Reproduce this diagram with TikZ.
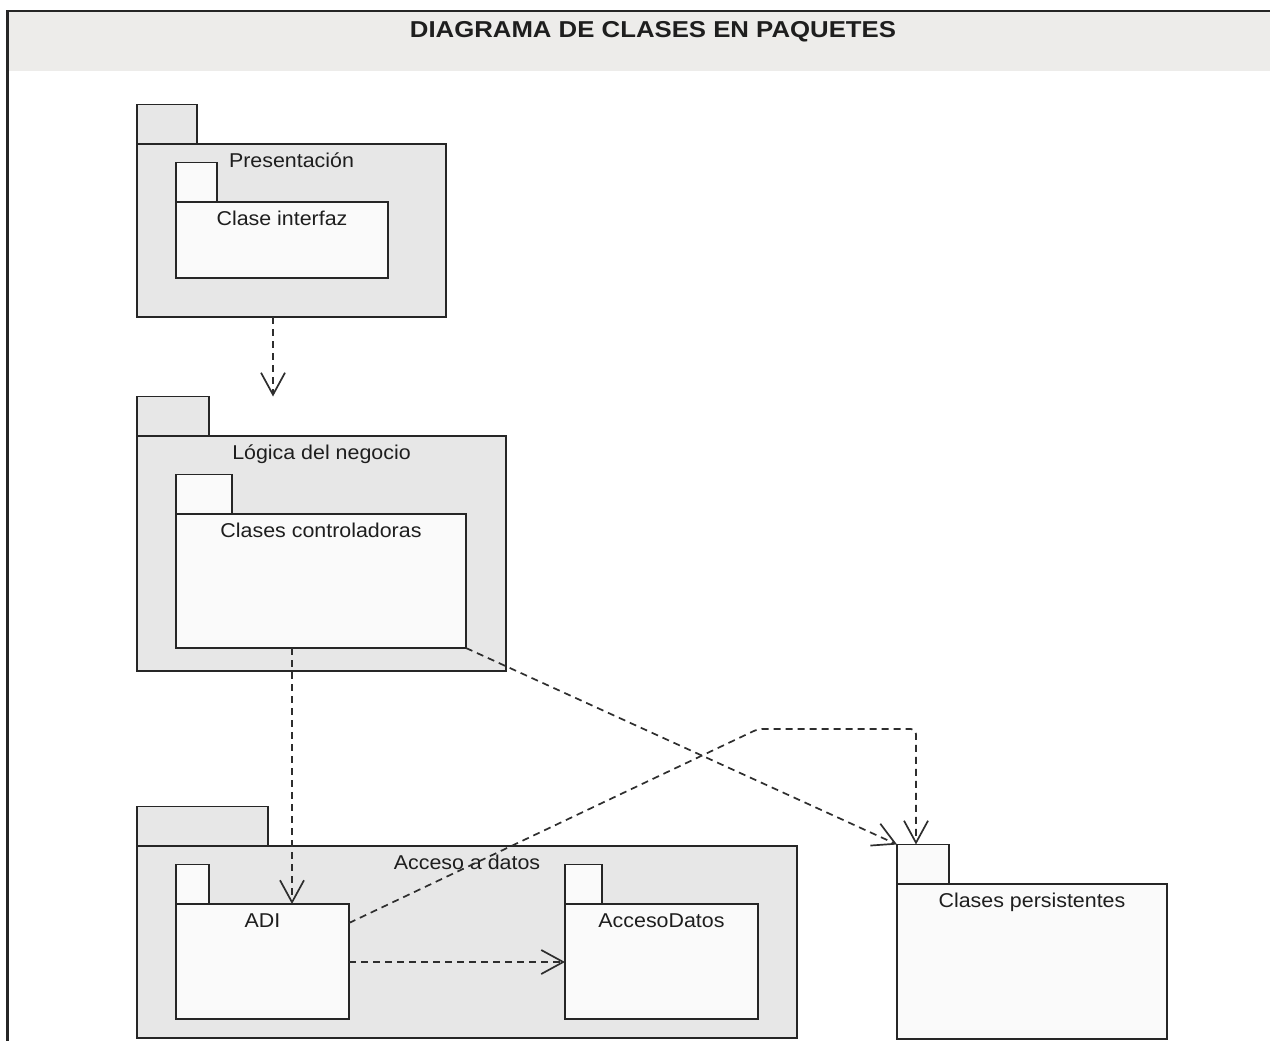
\documentclass[tikz,border=0pt]{standalone}
\usepackage{fontspec}
\setmainfont{Liberation Sans}
\newfontfamily\titlefamily[FakeStretch=1.12]{Liberation Sans}
\newfontfamily\lblfamily[FakeStretch=1.07]{Liberation Sans}
\usetikzlibrary{arrows.meta}

\definecolor{linec}{HTML}{262626}
\definecolor{depc}{HTML}{2E2E2E}
\definecolor{headfill}{HTML}{EDECEA}
\definecolor{pkgfill}{HTML}{E7E7E7}
\definecolor{innerfill}{HTML}{FAFAFA}
\definecolor{txt}{HTML}{1E1E1E}

\tikzset{
  pkg/.style={draw=linec, line width=1.8pt, fill=pkgfill, inner sep=0pt, outer sep=0pt, anchor=north west},
  inpkg/.style={pkg, fill=innerfill},
  lbl/.style={font=\lblfamily\fontsize{20}{24}\selectfont, anchor=base, inner sep=0pt, text=txt},
  dep/.style={draw=depc, line width=1.7pt, dash pattern=on 7pt off 5pt,
    -{Straight Barb[length=22pt,width=24pt,line width=1.7pt]}},
}

% UML package: style, name, x, y (top of body), width, height, tab width, label
\newcommand\umlpkg[8]{%
  \node[#1, minimum width=#5pt, minimum height=#6pt] (#2) at (#3,#4) {};
  \node[#1, minimum width=#7pt, minimum height=39.5pt, anchor=south west] (#2tab) at (#2.north west) {};
  \node[lbl] (#2lbl) at ([yshift=-23pt]#2.north) {#8};
}

\begin{document}
\begin{tikzpicture}[x=1pt, y=-1pt]
  \useasboundingbox (0,0) rectangle (1270,1041);

  % header band and frame
  \fill[headfill] (8,12) rectangle (1270,71);
  \draw[linec, line width=2.4pt] (1270,11) -- (7.5,11) -- (7.5,1041);
  \node[font=\titlefamily\bfseries\fontsize{23}{27}\selectfont, anchor=base, text=txt, inner sep=0pt]
    (title) at (653,38) {DIAGRAMA DE CLASES EN PAQUETES};

  % packages
  \umlpkg{pkg}{pres}{137}{144}{309}{173}{60}{Presentación}
  \umlpkg{inpkg}{cint}{176}{202}{212}{76}{41}{Clase interfaz}

  \umlpkg{pkg}{log}{137}{436}{369}{235}{72}{Lógica del negocio}
  \umlpkg{inpkg}{cc}{176}{514}{290}{134}{56}{Clases controladoras}

  \umlpkg{pkg}{acc}{137}{846}{660}{192}{131}{Acceso a datos}
  \umlpkg{inpkg}{adi}{176}{904}{173}{115}{33}{ADI}
  \umlpkg{inpkg}{ad}{565}{904}{193}{115}{37}{AccesoDatos}

  \umlpkg{inpkg}{cp}{897}{884}{270}{155}{52}{Clases persistentes}

  % dependencies
  \coordinate (d1) at ([xshift=136pt]pres.south west);
  \draw[dep] (d1) -- (d1 |- logtab.north);

  \coordinate (d2) at ([xshift=116pt]cc.south west);
  \draw[dep] (d2) -- (d2 |- adi.north);

  \draw[dep] (cc.south east) -- (cptab.north west);

  \coordinate (d4) at ([yshift=-19pt]adi.north east);
  \coordinate (bend) at (758,729);
  \coordinate (d4end) at ([xshift=19pt]cptab.north west);
  \draw[dep, rounded corners=5pt] (d4) -- (bend) -- (bend -| d4end) -- (d4end);

  \coordinate (d5) at ([yshift=-58pt]adi.north east);
  \draw[dep] (d5) -- (d5 -| ad.west);
\end{tikzpicture}
\end{document}
